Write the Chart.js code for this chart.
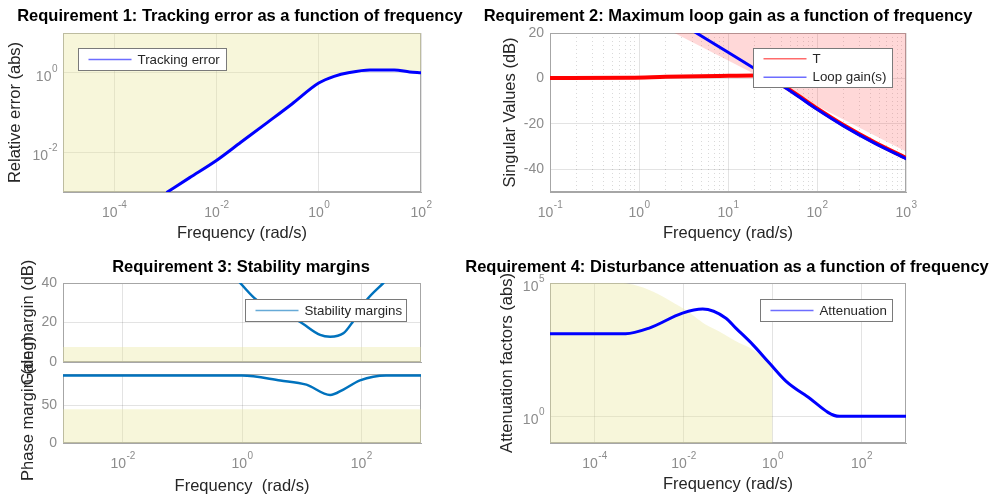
<!DOCTYPE html>
<html>
<head>
<meta charset="utf-8">
<script src="https://cdn.jsdelivr.net/npm/chart.js@4.4.1/dist/chart.umd.min.js"></script>
<style>
  body { margin: 0; width: 1003px; height: 499px; background: #fff; position: relative; overflow: hidden;
         font-family: 'Liberation Sans', Arial, Helvetica, sans-serif; }
  canvas { position: absolute; }
  .ttl { position: absolute; font-weight: bold; font-size: 16.5px; color: #000; white-space: nowrap;
         transform: translate(-50%, -50%); z-index: 5; }
</style>
</head>
<body>
<div class="ttl" style="left:240px;top:15px">Requirement 1: Tracking error as a function of frequency</div>
<div class="ttl" style="left:728px;top:15px">Requirement 2: Maximum loop gain as a function of frequency</div>
<div class="ttl" style="left:241px;top:266px">Requirement 3: Stability margins</div>
<div class="ttl" style="left:727px;top:266px">Requirement 4: Disturbance attenuation as a function of frequency</div>
<canvas id="c1"></canvas>
<canvas id="c2"></canvas>
<canvas id="c3a"></canvas>
<canvas id="c3b"></canvas>
<canvas id="c4"></canvas>
<script>
// Requirement 1: tracking error
const trackFreq = [1.1e-3, 3e-3, 1e-2, 3e-2, 1e-1, 3e-1, 1, 2, 4, 10, 30, 60, 100];
const trackErr  = [1e-3, 2.3e-3, 6.2e-3, 0.0178, 0.0565, 0.164, 0.55, 0.81, 1.01, 1.17, 1.17, 1.05, 1.0];

// Requirement 2: max loop gain (dB)
const boundFreq = [2.5, 1000];
const boundDb   = [20, -32.2];
const loopFreq  = [4.1, 10, 20, 40, 63, 100, 200, 447, 1000];
const loopDb    = [20.8, 11.5, 4.3, -3.0, -8.2, -13.6, -21.0, -28.6, -35.3];
const tFreq     = [0.1, 0.8, 2, 8, 20, 30, 40, 63, 100, 200, 447, 1000];
const tDb       = [0.2, 0.3, 0.7, 1.1, 1.3, 0.6, -2.6, -7.8, -13.2, -20.6, -28.2, -35.0];

// Requirement 3: stability margins
const gmFreq = [0.93, 1.76, 4, 9.3, 20.4, 30, 50, 72, 123, 234];
const gmDb   = [40, 31.4, 26, 20.4, 13.7, 12.8, 14.5, 20.4, 31.4, 40];
const pmFreq = [1e-3, 1, 4.4, 12, 30, 50, 95, 260, 1000];
const pmDeg  = [90, 90, 83.4, 77.8, 64, 71.3, 83.4, 90, 90];
const gmMin = 7.6, pmMin = 45;

// Requirement 4: disturbance attenuation
const attFreq = [1e-5, 5e-4, 1.7e-3, 9.5e-3, 2.7e-2, 9e-2, 0.15, 0.36, 0.85, 2, 5.8, 32, 1000];
const attVal  = [1250, 1250, 2040, 7400, 10500, 4800, 2040, 490, 100, 21, 5.8, 1, 1];
const attBoundFreq = [1e-5, 4.4e-4, 1.7e-3, 9.5e-3, 3.2e-2, 6.5e-2, 0.18, 0.36, 1, 1];
const attBoundVal  = [1e5, 1e5, 5.5e4, 1.15e4, 2.7e3, 1.5e3, 560, 316, 66, 0.1];

// tick values
const ticks1x = [1e-4, 1e-2, 1, 100], ticks1y = [1e-2, 1];
const ticks2x = [0.1, 1, 10, 100, 1000], ticks2y = [-40, -20, 0, 20];
const ticks3x = [1e-2, 1, 100], ticks3gm = [0, 20, 40], ticks3pm = [0, 50];
const ticks4x = [1e-4, 1e-2, 1, 100], ticks4y = [1, 1e5];

const FONT = "'Liberation Sans', Arial, Helvetica, sans-serif";
const TICK = '#8c8c8c', LABEL = '#262626', FRAME = '#a6a6a6';
const YELLOW = 'rgba(232,228,150,0.35)', PINK = 'rgba(255,60,60,0.2)';
const NONE = 'rgba(0,0,0,0)';

const pts = (xs, ys) => xs.map((x, i) => ({x, y: ys[i]}));

function minorsOf(majors) {
  const out = [];
  majors.slice(0, -1).forEach(m => { for (let k = 2; k <= 9; k++) out.push(m * k); });
  return out;
}

function axis(a, dir, size) {
  return {
    type: a.log ? 'logarithmic' : 'linear',
    min: a.min, max: a.max,
    afterBuildTicks: s => {
      s.ticks = a.ticks.map(v => ({value: v}))
        .concat((a.minor || []).map(v => ({value: v, minor: true})))
        .sort((p, q) => p.value - q.value);
    },
    afterFit: s => {
      if (dir === 'x') { s.height = size; s.paddingLeft = 0; s.paddingRight = 0; }
      else { s.width = size; s.paddingTop = 0; s.paddingBottom = 0; }
    },
    grid: {
      drawTicks: false, lineWidth: 1,
      color: c => c.tick && c.tick.minor ? 'rgba(0,0,0,0.15)' : 'rgba(0,0,0,0.11)'
    },
    border: {
      display: true, color: FRAME, width: 1,
      dash: c => c.tick && c.tick.minor ? [1, 3] : []
    },
    ticks: {
      // log axes get 10^n labels with a real superscript, drawn by the plugin below
      display: a.labels !== false && !a.log, autoSkip: false, maxRotation: 0, minRotation: 0,
      padding: 6, color: TICK, font: {family: FONT, size: 14},
      callback: (v, i, t) => t[i].minor ? '' : String(v)
    },
    title: {
      display: !!a.title, text: a.title, color: LABEL,
      font: {family: FONT, size: 16.5}, padding: a.titlePad || 0
    }
  };
}

function powLabel(ctx, value, x, base, align) {
  const exp = String(Math.round(Math.log10(value)));
  ctx.font = '14px ' + FONT;
  const wb = ctx.measureText('10').width;
  ctx.font = '10px ' + FONT;
  const we = ctx.measureText(exp).width;
  const x0 = align === 'center' ? x - (wb + we) / 2 : x - wb - we;
  ctx.font = '14px ' + FONT;
  ctx.fillText('10', x0, base);
  ctx.font = '10px ' + FONT;
  ctx.fillText(exp, x0 + wb + 0.5, base - 9);
}

function decorations(c) {
  return {
    id: 'decorations',
    beforeDatasetsDraw(chart) {
      const {ctx, chartArea: a} = chart;
      ctx.save();
      ctx.strokeStyle = FRAME;
      ctx.lineWidth = 1;
      ctx.strokeRect(a.left + 0.5, a.top + 0.5, a.right - a.left - 1, a.bottom - a.top - 1);
      ctx.restore();
    },
    afterDraw(chart) {
      const {ctx, chartArea: a, scales} = chart;
      ctx.save();
      ctx.fillStyle = TICK;
      ctx.textBaseline = 'alphabetic';
      ctx.textAlign = 'left';
      if (c.x.log && c.x.labels !== false) {
        scales.x.ticks.filter(t => !t.minor).forEach(t =>
          powLabel(ctx, t.value, scales.x.getPixelForValue(t.value), a.bottom + 25, 'center'));
      }
      if (c.y.log) {
        scales.y.ticks.filter(t => !t.minor).forEach(t =>
          powLabel(ctx, t.value, a.left - 6, scales.y.getPixelForValue(t.value) + 8, 'right'));
      }
      const legend = c.legend;
      if (legend) {
        const items = chart.data.datasets.filter(d => d.label);
        const x = Math.round(a.left + legend.x) + 0.5, y = Math.round(a.top + legend.y) + 0.5;
        ctx.fillStyle = '#fff';
        ctx.fillRect(x, y, legend.w, legend.h);
        ctx.strokeStyle = '#7a7a7a';
        ctx.lineWidth = 1;
        ctx.strokeRect(x, y, legend.w, legend.h);
        ctx.font = '13.3px ' + FONT;
        ctx.textBaseline = 'middle';
        items.forEach((d, i) => {
          const cy = y + legend.h / 2 + (i - (items.length - 1) / 2) * 18.3;
          ctx.strokeStyle = d.legendColor;
          ctx.lineWidth = 1.5;
          ctx.beginPath();
          ctx.moveTo(x + 10, cy);
          ctx.lineTo(x + 53, cy);
          ctx.stroke();
          ctx.fillStyle = LABEL;
          ctx.fillText(d.label, x + 59, cy + 0.5);
        });
      }
      ctx.restore();
    }
  };
}

function makeChart(c) {
  const cv = document.getElementById(c.id);
  cv.width = c.w; cv.height = c.h;
  cv.style.left = c.left + 'px'; cv.style.top = c.top + 'px';
  const [pl, pt, pr, pb] = c.plot;
  return new Chart(cv, {
    type: 'line',
    data: {datasets: c.datasets},
    options: {
      responsive: false, animation: false, events: [],
      layout: {padding: {top: pt - c.top, right: c.left + c.w - pr, left: 0, bottom: 0}, autoPadding: false},
      plugins: {legend: {display: false}, tooltip: {enabled: false}, title: {display: false}},
      elements: {point: {radius: 0}, line: {borderCapStyle: 'round', borderJoinStyle: 'round'}},
      scales: {
        x: axis(c.x, 'x', c.top + c.h - pb),
        y: axis(c.y, 'y', pl - c.left)
      }
    },
    plugins: [decorations(c)]
  });
}

function curve(label, xs, ys, color, width, legendColor, order) {
  return {label, data: pts(xs, ys), borderColor: color, borderWidth: width, fill: false,
          cubicInterpolationMode: 'monotone', legendColor, order};
}
function area(xs, ys, fill, color, tension) {
  return {data: pts(xs, ys), borderColor: NONE, borderWidth: 0, backgroundColor: color,
          fill, tension: tension || 0, order: 9};
}

// Requirement 1
makeChart({
  id: 'c1', left: 0, top: 22, w: 445, h: 228, plot: [63, 33, 421, 192],
  x: {log: true, min: 1e-5, max: 100, ticks: ticks1x, title: 'Frequency (rad/s)', titlePad: 7},
  y: {log: true, min: 1e-3, max: 10, ticks: ticks1y, title: 'Relative error (abs)', titlePad: 6},
  datasets: [
    curve('Tracking error', trackFreq, trackErr, 'rgb(0,0,255)', 3, 'rgba(60,60,255,0.75)', 1),
    area([1e-5].concat(trackFreq), [1e-3].concat(trackErr), 'end', YELLOW)
  ],
  legend: {x: 15, y: 15, w: 148, h: 22}
});

// Requirement 2
makeChart({
  id: 'c2', left: 480, top: 22, w: 520, h: 228, plot: [550, 33, 906, 192],
  x: {log: true, min: 0.1, max: 1000, ticks: ticks2x, minor: minorsOf(ticks2x), title: 'Frequency (rad/s)', titlePad: 7},
  y: {min: -50, max: 20, ticks: ticks2y, title: 'Singular Values (dB)', titlePad: 20.5},
  datasets: [
    curve('T', tFreq, tDb, 'rgb(255,0,0)', 4, 'rgba(255,70,70,0.8)', 2),
    curve('Loop gain(s)', loopFreq, loopDb, 'rgb(0,0,255)', 3, 'rgba(60,60,255,0.75)', 1),
    area(boundFreq, boundDb, 'end', PINK)
  ],
  legend: {x: 203, y: 15, w: 139, h: 39}
});

// Requirement 3: gain margin (top) and phase margin (bottom)
makeChart({
  id: 'c3a', left: 0, top: 250, w: 445, h: 140, plot: [63, 283, 421, 362],
  x: {log: true, min: 1e-3, max: 1000, ticks: ticks3x, labels: false},
  y: {min: 0, max: 40, ticks: ticks3gm, title: 'Gain margin (dB)', titlePad: 19},
  datasets: [
    curve('Stability margins', gmFreq, gmDb, 'rgb(0,114,189)', 2.5, 'rgba(0,114,189,0.6)', 1),
    area([1e-3, 1000], [gmMin, gmMin], 'start', YELLOW)
  ],
  legend: {x: 182, y: 16, w: 161, h: 22}
});
makeChart({
  id: 'c3b', left: 0, top: 328, w: 445, h: 171, plot: [63, 374, 421, 443],
  x: {log: true, min: 1e-3, max: 1000, ticks: ticks3x, title: 'Frequency  (rad/s)', titlePad: 3},
  y: {min: 0, max: 92, ticks: ticks3pm, title: 'Phase margin (deg)', titlePad: 19},
  datasets: [
    curve(null, pmFreq, pmDeg, 'rgb(0,114,189)', 2.5, null, 1),
    area([1e-3, 1000], [pmMin, pmMin], 'start', YELLOW)
  ]
});

// Requirement 4
makeChart({
  id: 'c4', left: 480, top: 260, w: 520, h: 239, plot: [550, 283, 906, 443],
  x: {log: true, min: 1e-5, max: 1000, ticks: ticks4x, title: 'Frequency (rad/s)', titlePad: 5},
  y: {log: true, min: 0.1, max: 1e5, ticks: ticks4y, title: 'Attenuation factors (abs)', titlePad: 17.5},
  datasets: [
    curve('Attenuation', attFreq, attVal, 'rgb(0,0,255)', 3, 'rgba(60,60,255,0.75)', 1),
    area(attBoundFreq, attBoundVal, 'start', YELLOW, 0.3)
  ],
  legend: {x: 210, y: 16, w: 132, h: 22}
});
</script>
</body>
</html>
